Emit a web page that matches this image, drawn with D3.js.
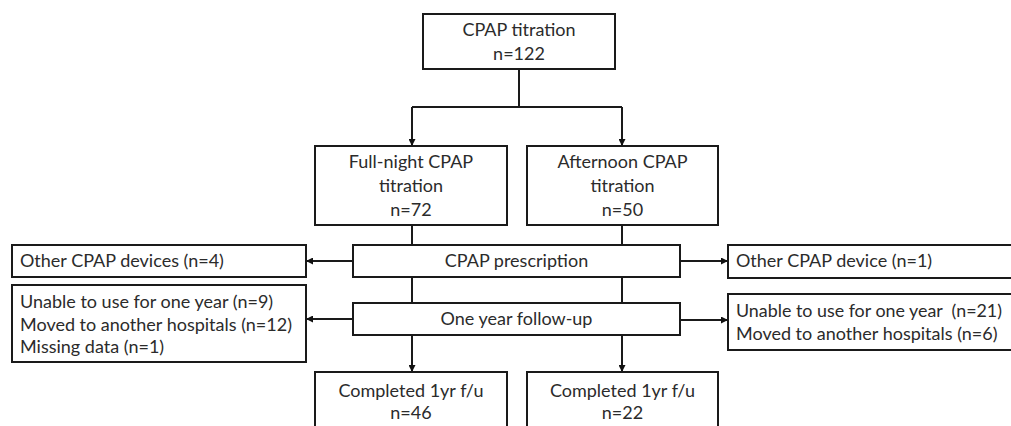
<!DOCTYPE html>
<html>
<head>
<meta charset="utf-8">
<script src="https://cdn.jsdelivr.net/npm/d3@7"></script>
<style>
  body { margin: 0; background: #fff; }
  text { font-family: Lato, "Open Sans", sans-serif; fill: #2b2b2b; white-space: pre; }
</style>
</head>
<body>
<div id="chart"></div>
<script>
// labels
const titrationLabel = ["CPAP titration", "n=122"];
const armLabels = [["Full-night CPAP", "titration", "n=72"], ["Afternoon CPAP", "titration", "n=50"]];
const stageLabels = ["CPAP prescription", "One year follow-up"];
const leftExclusions = [["Other CPAP devices (n=4)"],
    ["Unable to use for one year (n=9)", "Moved to another hospitals (n=12)", "Missing data (n=1)"]];
const rightExclusions = [["Other CPAP device (n=1)"],
    ["Unable to use for one year  (n=21)", "Moved to another hospitals (n=6)"]];
const completedLabels = [["Completed 1yr f/u", "n=46"], ["Completed 1yr f/u", "n=22"]];

const width = 1011, height = 426;
const svg = d3.select("#chart").append("svg")
    .attr("width", width).attr("height", height);

svg.append("defs").append("marker")
    .attr("id", "arrow")
    .attr("viewBox", "0 0 10 10")
    .attr("refX", 10).attr("refY", 5)
    .attr("markerWidth", 3.5).attr("markerHeight", 3.5)
    .attr("markerUnits", "strokeWidth")
    .attr("orient", "auto")
    .append("path").attr("d", "M0,0L10,5L0,10z").attr("fill", "#111");

// layout of the boxes (x, y, w, h, ty = centre of the first text line, maxW = room for text)
const colX = [412, 622];           // the two arm columns
const layout = {
    top: {x: 423, y: 14, w: 192, h: 55, ty: 30, lh: 24},
    arms: [{x: 315, y: 146, w: 192, h: 79, ty: 162, lh: 24}, {x: 527, y: 146, w: 191, h: 79, ty: 162, lh: 24}],
    stages: [{x: 353, y: 245, w: 327, h: 32, ty: 261}, {x: 353, y: 303, w: 327, h: 32, ty: 319}],
    left: [{x: 12, y: 245, w: 294, h: 32, ty: 261}, {x: 12, y: 285, w: 294, h: 77, ty: 302, lh: 22.5, maxW: 272}],
    right: [{x: 728, y: 245, w: 300, h: 33, ty: 261}, {x: 728, y: 294, w: 300, h: 56, ty: 311, lh: 23, maxW: 266}],
    done: [{x: 315, y: 372, w: 192, h: 80, ty: 391, lh: 22}, {x: 527, y: 372, w: 191, h: 80, ty: 391, lh: 22}]
};

function drawBox(box, lines, align) {
    const g = svg.append("g");
    g.append("rect")
        .attr("x", box.x).attr("y", box.y)
        .attr("width", box.w).attr("height", box.h)
        .attr("fill", "#fff").attr("stroke", "#1a1a1a").attr("stroke-width", 2);
    g.selectAll("text").data(lines).enter()
        .append("text")
        .attr("x", align === "start" ? box.x + 8 : box.x + box.w / 2)
        .attr("y", (d, i) => box.ty + i * (box.lh || 23))
        .attr("dy", "0.35em")
        .attr("text-anchor", align === "start" ? "start" : "middle")
        .attr("font-size", 18)
        .text(d => d)
        .each(function () {
            // squeeze lines that would run past the box
            if (box.maxW && this.getComputedTextLength() > box.maxW)
                d3.select(this).attr("textLength", box.maxW).attr("lengthAdjust", "spacingAndGlyphs");
        });
}

function link(pts, arrow) {
    svg.append("path")
        .attr("d", d3.line()(pts))
        .attr("fill", "none").attr("stroke", "#1a1a1a").attr("stroke-width", 2)
        .attr("marker-end", arrow ? "url(#arrow)" : null);
}

// connectors
const t = layout.top, s = layout.stages;
const splitY = 107;
link([[t.x + t.w / 2, t.y + t.h], [t.x + t.w / 2, splitY]]);
link([[colX[0], splitY], [colX[1], splitY]]);
colX.forEach((cx, i) => {
    link([[cx, splitY], [cx, layout.arms[i].y]], true);
    link([[cx, layout.arms[i].y + layout.arms[i].h], [cx, s[0].y]]);
    link([[cx, s[0].y + s[0].h], [cx, s[1].y]]);
    link([[cx, s[1].y + s[1].h], [cx, layout.done[i].y]], true);
});
s.forEach((st, i) => {
    const my = st.y + st.h / 2;
    link([[st.x, my], [layout.left[i].x + layout.left[i].w, my]], true);
    link([[st.x + st.w, my + i], [layout.right[i].x, my + i]], true);
});

// boxes
drawBox(layout.top, titrationLabel);
layout.arms.forEach((b, i) => drawBox(b, armLabels[i]));
layout.stages.forEach((b, i) => drawBox(b, [stageLabels[i]]));
layout.left.forEach((b, i) => drawBox(b, leftExclusions[i], "start"));
layout.right.forEach((b, i) => drawBox(b, rightExclusions[i], "start"));
layout.done.forEach((b, i) => drawBox(b, completedLabels[i]));
</script>
</body>
</html>
